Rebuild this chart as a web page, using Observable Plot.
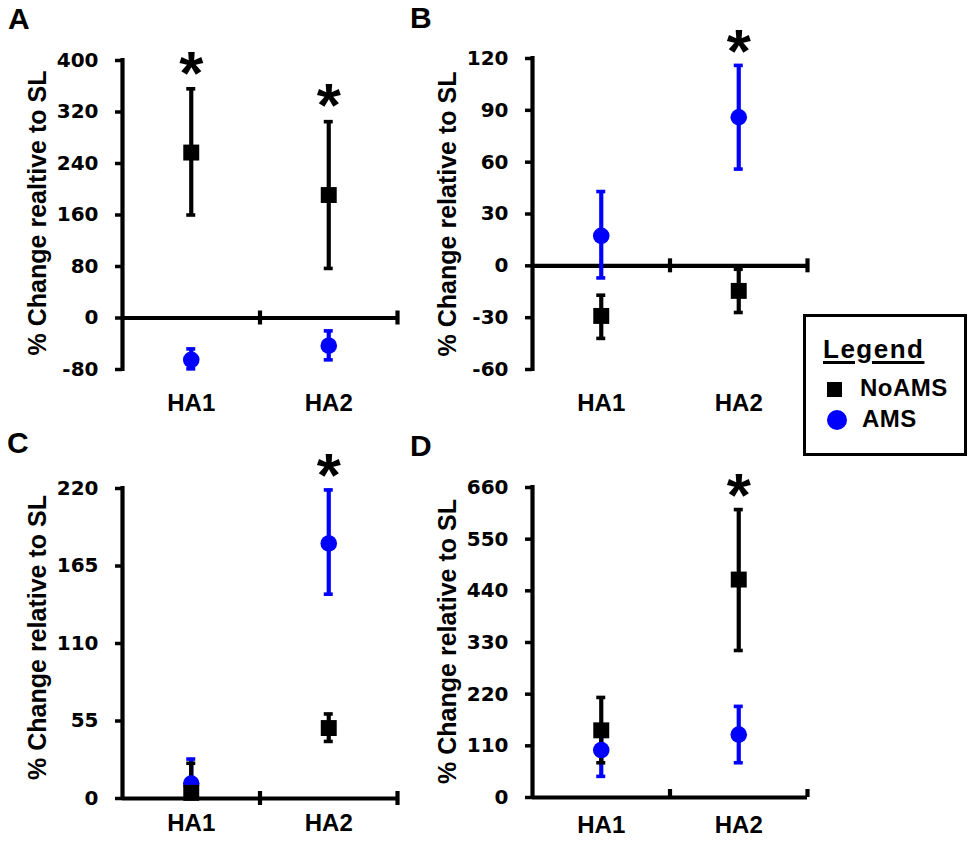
<!DOCTYPE html>
<html>
<head>
<meta charset="utf-8">
<script src="https://cdn.jsdelivr.net/npm/d3@7"></script>
<script src="https://cdn.jsdelivr.net/npm/@observablehq/plot@0.6"></script>
<style>
  body { margin: 0; background: #fff; }
  #root { position: relative; width: 975px; height: 842px; font-family: "Liberation Sans", Arial, sans-serif; font-weight: bold; color: #000; }
  .panel { position: absolute; }
  .letter { position: absolute; font-size: 30px; line-height: 30px; }
  .legend-box { position: absolute; left: 803px; top: 314px; width: 164px; height: 142px; box-sizing: border-box; border: 3.5px solid #000; }
  .legend-title { position: absolute; left: 823px; top: 336px; font-size: 26px; line-height: 26px; text-decoration: underline; text-decoration-thickness: 2.5px; text-underline-offset: 3px; letter-spacing: 1.5px; }
  .legend-label { position: absolute; font-size: 24px; line-height: 24px; letter-spacing: 0.5px; }
  .sw-square { position: absolute; width: 15px; height: 15px; background: #000; }
  .sw-circle { position: absolute; width: 20px; height: 20px; border-radius: 50%; background: #0000ff; }
  g[aria-label="y-axis tick label"] text { font-family: "DejaVu Sans", sans-serif; }
  g[aria-label="y-axis tick"] path { stroke-width: 3.5px; }
</style>
</head>
<body>
<div id="root">
  <div class="letter" style="left:8px;top:4px;">A</div>
  <div class="letter" style="left:410px;top:3px;">B</div>
  <div class="letter" style="left:7px;top:428px;">C</div>
  <div class="letter" style="left:410px;top:431px;">D</div>
  <div class="legend-box"></div>
  <div class="legend-title" id="legTitle"></div>
  <div class="sw-square" style="left:827px;top:382px;"></div>
  <div class="legend-label" id="leg0" style="left:860px;top:376px;"></div>
  <div class="sw-circle" style="left:827px;top:410px;"></div>
  <div class="legend-label" id="leg1" style="left:862px;top:407px;"></div>
</div>
<script>
// ---------- data ----------
const categories = ["HA1", "HA2"];
const seriesNames = ["NoAMS", "AMS"];
const legendTitle = "Legend";

// Panel A
const aTicks = [-80, 0, 80, 160, 240, 320, 400];
const aNoMean = [257, 191], aNoLo = [160, 77], aNoHi = [356, 305];
const aAmsMean = [-65, -43], aAmsLo = [-79, -65], aAmsHi = [-48, -20];
const aSigCat = ["HA1", "HA2"], aSigY = [392, 343];
const aTitle = "% Change realtive to SL";

// Panel B
const bTicks = [-60, -30, 0, 30, 60, 90, 120];
const bNoMean = [-29, -14.5], bNoLo = [-42, -27], bNoHi = [-17, -2];
const bAmsMean = [17.4, 86], bAmsLo = [-7, 56], bAmsHi = [43, 116];
const bSigCat = ["HA2"], bSigY = [129];
const bTitle = "% Change relative to SL";

// Panel C
const cTicks = [0, 55, 110, 165, 220];
const cNoMean = [4, 50], cNoLo = [1, 40.5], cNoHi = [25, 60];
const cAmsMean = [10.6, 181], cAmsLo = [0, 145], cAmsHi = [28, 219];
const cSigCat = ["HA2"], cSigY = [235];
const cTitle = "% Change relative to SL";

// Panel D
const dTicks = [0, 110, 220, 330, 440, 550, 660];
const dNoMean = [143, 464], dNoLo = [74, 313], dNoHi = [213, 613];
const dAmsMean = [101, 134], dAmsLo = [45, 74], dAmsHi = [150, 194];
const dSigCat = ["HA2"], dSigY = [660];
const dTitle = "% Change relative to SL";

// ---------- drawing ----------
const BLUE = "#0000ff";
const FONT = "'Liberation Sans', Arial, sans-serif";

document.getElementById("legTitle").textContent = legendTitle;
document.getElementById("leg0").textContent = seriesNames[0];
document.getElementById("leg1").textContent = seriesNames[1];

function rows(mean, lo, hi) {
  return categories.map((c, i) => ({cat: c, pos: i + 0.5, mean: mean[i], lo: lo[i], hi: hi[i]}));
}

function errorMarks(data, color) {
  return [
    Plot.ruleX(data, {x: "pos", y1: "lo", y2: "hi", stroke: color, strokeWidth: 4.2}),
    Plot.ruleY(data, {y: "lo", x1: "pos", x2: "pos", insetLeft: -4.5, insetRight: -4.5, stroke: color, strokeWidth: 3.6}),
    Plot.ruleY(data, {y: "hi", x1: "pos", x2: "pos", insetLeft: -4.5, insetRight: -4.5, stroke: color, strokeWidth: 3.6})
  ];
}

function makePanel(cfg) {
  const no = rows(cfg.noMean, cfg.noLo, cfg.noHi);
  const ams = rows(cfg.amsMean, cfg.amsLo, cfg.amsHi);
  const sig = cfg.sigCat.map((c, i) => ({pos: categories.indexOf(c) + 0.5, y: cfg.sigY[i]}));
  const boundaries = categories.map((c, i) => i + 1);
  const chart = Plot.plot({
    width: 410,
    height: cfg.height,
    marginLeft: 122,
    marginRight: 13,
    marginTop: cfg.mTop,
    marginBottom: cfg.mBottom,
    style: {fontFamily: FONT, fontWeight: "bold", overflow: "visible", background: "transparent", color: "#000"},
    x: {type: "linear", domain: [0, categories.length]},
    y: {domain: [cfg.ticks[0], cfg.ticks[cfg.ticks.length - 1]]},
    marks: [
      Plot.axisY({ticks: cfg.ticks, tickSize: 7, tickPadding: 17, strokeWidth: 3.5, fontSize: 20, fontWeight: "bold", label: null,
        tickFormat: (d) => String(d)}),
      Plot.axisX({ticks: categories.map((c, i) => i + 0.5), tickSize: 0, tickPadding: cfg.xPad, fontSize: 24, fontWeight: "bold", label: null,
        tickFormat: (d) => categories[Math.floor(d)]}),
      Plot.ruleX([0], {stroke: "#000", strokeWidth: 4.2, strokeLinecap: "square"}),
      Plot.ruleY([0], {stroke: "#000", strokeWidth: 4.2}),
      Plot.ruleX(boundaries, {y1: 0, y2: 0, insetTop: -cfg.crossUp, insetBottom: -cfg.crossDown, stroke: "#000", strokeWidth: 4.2}),
      ...errorMarks(ams, BLUE),
      ...errorMarks(no, "#000"),
      Plot.dot(ams, {x: "pos", y: "mean", r: 8.3, fill: BLUE, symbol: "circle"}),
      Plot.dot(no, {x: "pos", y: "mean", r: 9, fill: "#000", symbol: "square"}),
      Plot.text(sig, {x: "pos", y: "y", text: () => "*", fontSize: 62, fontWeight: "bold", dy: 9}),
      Plot.text([cfg.title], {text: (d) => d, frameAnchor: "left", textAnchor: "middle", lineAnchor: "middle", dx: -85, dy: cfg.titleDy, rotate: -90, fontSize: 25, fontWeight: "bold"})
    ]
  });
  chart.classList.add("panel");
  chart.style.left = cfg.left + "px";
  chart.style.top = cfg.top + "px";
  chart.style.position = "absolute";
  document.getElementById("root").appendChild(chart);
}

makePanel({left: 0, top: 0, height: 420, mTop: 60, mBottom: 51, ticks: aTicks,
  noMean: aNoMean, noLo: aNoLo, noHi: aNoHi, amsMean: aAmsMean, amsLo: aAmsLo, amsHi: aAmsHi,
  sigCat: aSigCat, sigY: aSigY, title: aTitle, xPad: 24, crossUp: 7, crossDown: 7, titleDy: -2});
makePanel({left: 410, top: 0, height: 420, mTop: 58, mBottom: 51, ticks: bTicks,
  noMean: bNoMean, noLo: bNoLo, noHi: bNoHi, amsMean: bAmsMean, amsLo: bAmsLo, amsHi: bAmsHi,
  sigCat: bSigCat, sigY: bSigY, title: bTitle, xPad: 24, crossUp: 7, crossDown: 7, titleDy: 0});
makePanel({left: 0, top: 421, height: 421, mTop: 67, mBottom: 44, ticks: cTicks,
  noMean: cNoMean, noLo: cNoLo, noHi: cNoHi, amsMean: cAmsMean, amsLo: cAmsLo, amsHi: cAmsHi,
  sigCat: cSigCat, sigY: cSigY, title: cTitle, xPad: 15, crossUp: 7, crossDown: 7, titleDy: -6});
makePanel({left: 410, top: 421, height: 421, mTop: 66, mBottom: 45, ticks: dTicks,
  noMean: dNoMean, noLo: dNoLo, noHi: dNoHi, amsMean: dAmsMean, amsLo: dAmsLo, amsHi: dAmsHi,
  sigCat: dSigCat, sigY: dSigY, title: dTitle, xPad: 18, crossUp: 8, crossDown: 0, titleDy: -1});
</script>
</body>
</html>
